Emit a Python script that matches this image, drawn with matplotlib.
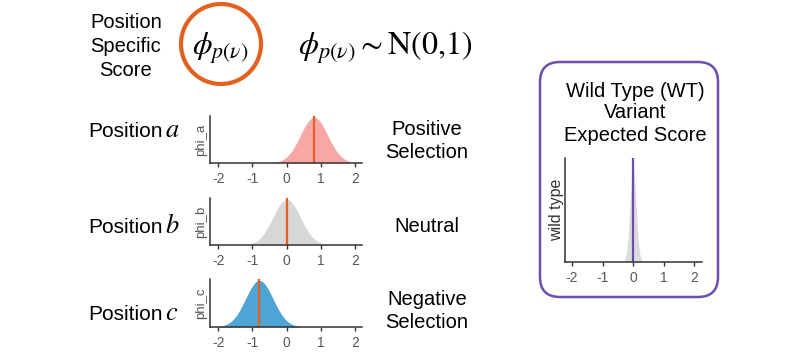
import numpy as np
import matplotlib
matplotlib.use("Agg")
import matplotlib.pyplot as plt
from matplotlib.patches import Circle, FancyBboxPatch

plt.rcParams['font.family'] = ['Liberation Sans', 'DejaVu Sans']
plt.rcParams['mathtext.fontset'] = 'stix'

# data
positions = ['a', 'b', 'c']
ylabels = ['phi_a', 'phi_b', 'phi_c']
means = [0.8, 0.0, -0.8]
sds = [0.4, 0.4, 0.4]
fills = ['#f8a7a7', '#d7d7d7', '#4fa4d6']
right_labels = [['Positive', 'Selection'], ['Neutral'], ['Negative', 'Selection']]
ticks = [-2, -1, 0, 1, 2]
wt_mean = 0.0
wt_sd = 0.1

ORANGE = '#e3601f'
PURPLE = '#6a4fae'
W, H = 795, 356

fig = plt.figure(figsize=(W / 100, H / 100), dpi=100)

# overlay in pixel coords for text and shapes
bg = fig.add_axes([0, 0, 1, 1])
bg.set_xlim(0, W)
bg.set_ylim(H, 0)
bg.axis('off')


def ax_px(x0, y0, x1, y1):
    return fig.add_axes([x0 / W, 1 - y1 / H, (x1 - x0) / W, (y1 - y0) / H])


def style(ax, xlim):
    for s in ['top', 'right']:
        ax.spines[s].set_visible(False)
    for s in ['left', 'bottom']:
        ax.spines[s].set_color('#333333')
        ax.spines[s].set_linewidth(1.1)
    ax.set_xlim(*xlim)
    ax.set_xticks(ticks)
    ax.set_xticklabels([str(t) for t in ticks])
    ax.set_yticks([])
    ax.tick_params(axis='x', length=3, width=1, color='#333333', pad=3.5,
                   labelsize=10, labelcolor='#585858')
    ax.patch.set_alpha(0)


# header
for txt, yb in zip(['Position', 'Specific', 'Score'], [28, 52, 76]):
    bg.text(126, yb, txt, ha='center', va='baseline', fontsize=14.5)
bg.add_patch(Circle((221, 44), 40, fill=False, ec=ORANGE, lw=3))
bg.text(220, 56, r'$\phi_{p(\nu)}$', ha='center', va='baseline', fontsize=22.5)
bg.text(298, 55, r'$\phi_{p(\nu)} \sim \mathrm{N}(0{,}1)$', ha='left', va='baseline',
        fontsize=23)

# three position panels
panel_y = [(116, 163), (198, 245), (279, 327)]
left_base = [137, 233, 320]
right_base = [[135, 158], [232], [305, 328]]
for i in range(3):
    y0, y1 = panel_y[i]
    ax = ax_px(210, y0, 362, y1)
    m, s = means[i], sds[i]
    xs = np.linspace(m - 3 * s, m + 3 * s, 300)
    ys = np.exp(-0.5 * ((xs - m) / s) ** 2)
    ax.fill_between(xs, 0, ys, color=fills[i], lw=0)
    ax.plot([m, m], [0, 1], color=ORANGE, lw=1.6)
    ax.set_ylim(0, 1.03)
    style(ax, (-2.24, 2.2))
    ax.set_ylabel(ylabels[i], fontsize=9.5, color='#555555', labelpad=2)
    bg.text(88, left_base[i], 'Position', ha='left', va='baseline', fontsize=15)
    bg.text(165, left_base[i], '$' + positions[i] + '$', ha='left', va='baseline',
            fontsize=19)
    for txt, yb in zip(right_labels[i], right_base[i]):
        bg.text(427, yb, txt, ha='center', va='baseline', fontsize=14.5)

# wild type box
bg.add_patch(FancyBboxPatch((540, 62), 178, 235, boxstyle='round,pad=0,rounding_size=20',
                            fill=False, ec=PURPLE, lw=1.8))
for txt, yb in zip(['Wild Type (WT)', 'Variant', 'Expected Score'], [97, 118, 141]):
    bg.text(635, yb, txt, ha='center', va='baseline', fontsize=14.5)

ax = ax_px(565, 158, 702, 262)
xs = np.linspace(wt_mean - 3.5 * wt_sd, wt_mean + 3.5 * wt_sd, 300)
ys = np.exp(-0.5 * ((xs - wt_mean) / wt_sd) ** 2)
ax.fill_between(xs, 0, ys, color='#dcdcdc', lw=0)
ax.axvline(wt_mean, color=PURPLE, lw=1.6)
ax.set_ylim(0, 1.08)
style(ax, (-2.23, 2.26))
ax.set_ylabel('wild type', fontsize=11.5, color='#333333', labelpad=1)

fig.savefig('out.png', dpi=100)
